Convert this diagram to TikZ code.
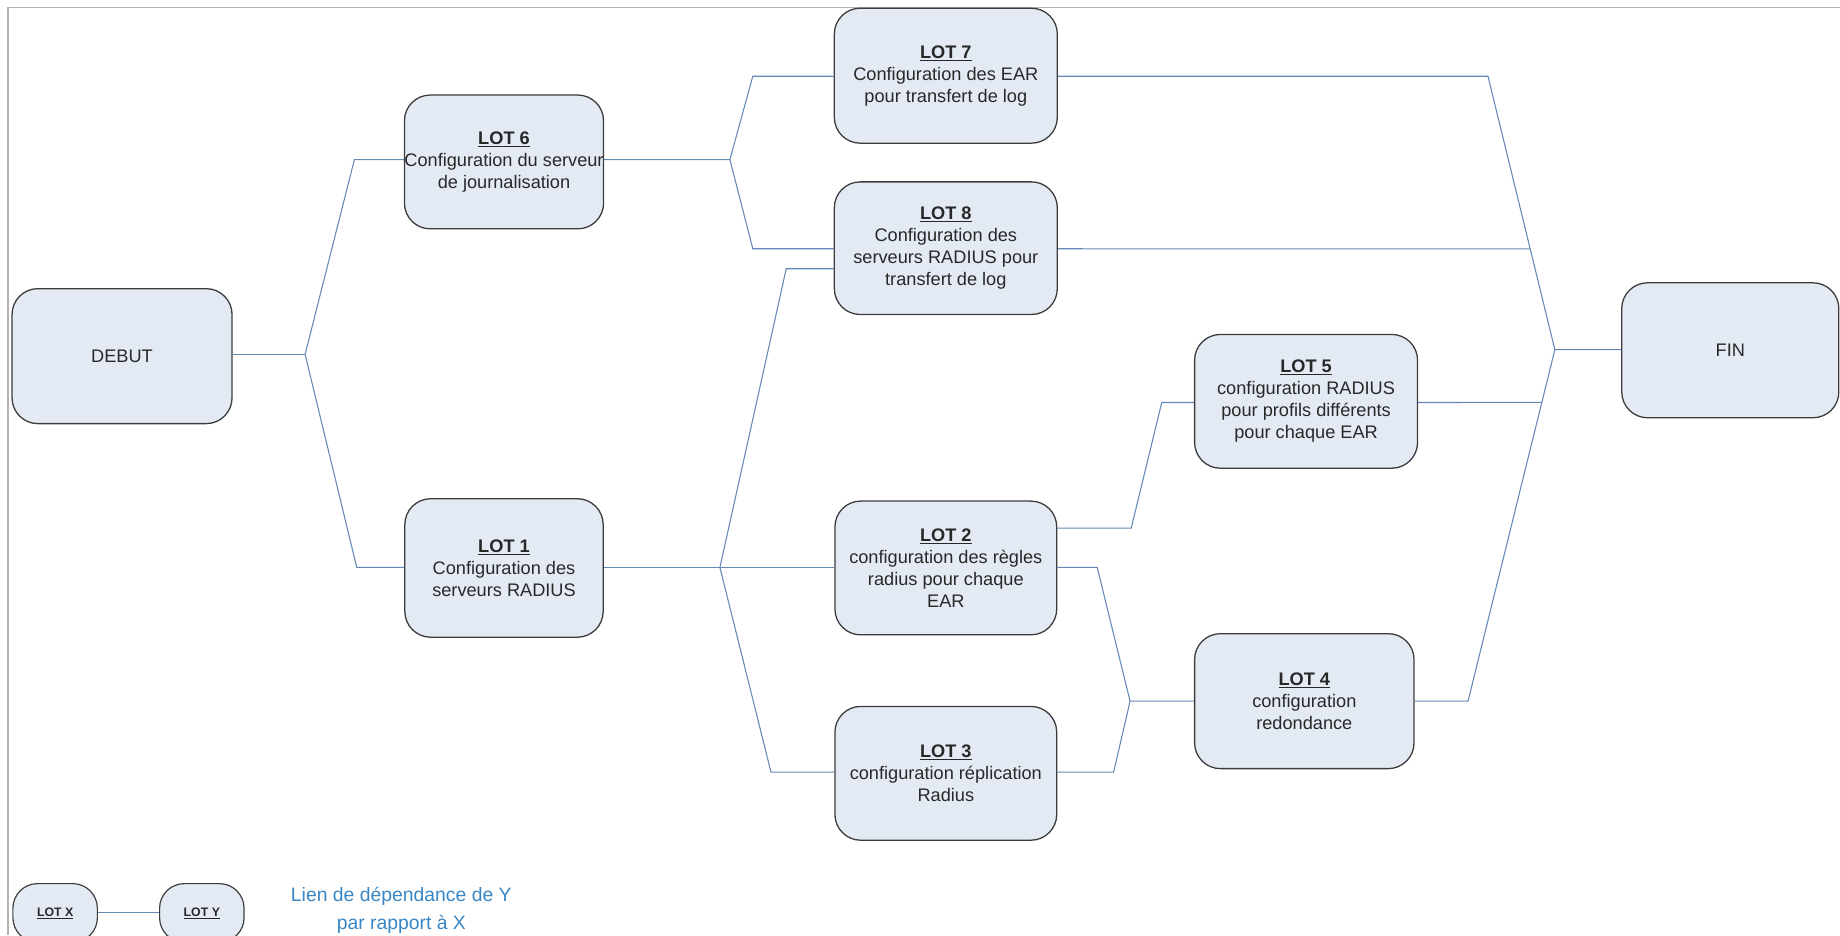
\documentclass[tikz,border=0pt]{standalone}
\usepackage{fontspec}
\setmainfont{Liberation Sans}
\usetikzlibrary{calc}

\definecolor{boxfill}{RGB}{228,234,244}
\definecolor{boxline}{RGB}{60,60,60}
\definecolor{wirecol}{RGB}{100,136,180}
\definecolor{framecol}{RGB}{180,180,180}
\definecolor{keytextcol}{RGB}{56,134,196}
\definecolor{ink}{RGB}{40,40,40}

\newcommand{\lotname}[1]{\underline{\textbf{#1}}}

\tikzset{
  lotbox/.style={draw=boxline, fill=boxfill, line width=1.1pt, rounded corners=22pt,
    align=center, inner sep=0pt, text=ink, font=\fontsize{15.5}{18.7}\selectfont},
  wire/.style={draw=wirecol, line width=0.9pt},
  framepart/.style={draw=framecol, line width=1.4pt},
  keybox/.style={draw=boxline, fill=boxfill, line width=1pt, rounded corners=21pt,
    minimum width=72pt, minimum height=50pt, inner sep=0pt, text=ink,
    font=\fontsize{10.5}{12}\selectfont},
}

\begin{document}
\begin{tikzpicture}[x=1pt, y=-1pt]
  \useasboundingbox (0,0) rectangle (1568,797);
  \clip (0,0) rectangle (1568,797);

  % page frame (top and left edges)
  \draw[framepart] (7,797) -- (7,6.3) -- (1568,6.3);

  % work packages
  \node[lotbox, minimum width=187.5pt, minimum height=115pt] (debut) at (104,303.5) {DEBUT};
  \node[lotbox, minimum width=169pt, minimum height=114pt] (lot6) at (429.5,138)
    {\lotname{LOT 6}\\Configuration du serveur\\de journalisation};
  \node[lotbox, minimum width=169pt, minimum height=118pt] (lot1) at (429.5,484)
    {\lotname{LOT 1}\\Configuration des\\serveurs RADIUS};
  \node[lotbox, minimum width=190pt, minimum height=115pt] (lot7) at (806,64.5)
    {\lotname{LOT 7}\\Configuration des EAR\\pour transfert de log};
  \node[lotbox, minimum width=190pt, minimum height=113pt] (lot8) at (806,211.5)
    {\lotname{LOT 8}\\Configuration des\\serveurs RADIUS pour\\transfert de log};
  \node[lotbox, minimum width=189pt, minimum height=114pt] (lot2) at (806,484)
    {\lotname{LOT 2}\\configuration des règles\\radius pour chaque\\EAR};
  \node[lotbox, minimum width=189pt, minimum height=114pt] (lot3) at (806,659)
    {\lotname{LOT 3}\\configuration réplication\\Radius};
  \node[lotbox, minimum width=190pt, minimum height=114pt] (lot5) at (1113,342)
    {\lotname{LOT 5}\\configuration RADIUS\\pour profils différents\\pour chaque EAR};
  \node[lotbox, minimum width=187pt, minimum height=115pt] (lot4) at (1111.5,597.5)
    {\lotname{LOT 4}\\configuration\\redondance};
  \node[lotbox, minimum width=185pt, minimum height=115pt] (fin) at (1474.5,298.5) {FIN};

  % bends and junctions of the dependency links
  \coordinate (j0) at (260,302);
  \coordinate (c06) at (302,136);
  \coordinate (c01) at (304,483.5);
  \coordinate (j6) at (622,136);
  \coordinate (c67) at (641.5,65);
  \coordinate (c68) at (641.5,212);
  \coordinate (j1) at (613.5,483.5);
  \coordinate (c18) at (670,229);
  \coordinate (c13) at (657,658);
  \coordinate (c25a) at (964,450);
  \coordinate (c25b) at (990,343);
  \coordinate (c24) at (935,483.5);
  \coordinate (j4) at (963,597.5);
  \coordinate (c34) at (949,658);
  \coordinate (c4f) at (1251,597.5);
  \coordinate (jf) at (1325,298);
  \coordinate (c7f) at (1268,65);
  \coordinate (e8) at ($(c7f)!0.631!(jf)$);
  \coordinate (e5) at ($(jf)!0.150!(c4f)$);

  % dependency links
  \draw[wire] (debut.east |- j0) -- (j0);
  \draw[wire] (j0) -- (c06) -- (lot6.west |- c06);
  \draw[wire] (j0) -- (c01) -- (lot1.west |- c01);
  \draw[wire] (lot6.east |- j6) -- (j6) -- (c67) -- (lot7.west |- c67);
  \draw[wire] (j6) -- (c68) -- (lot8.west |- c68);
  \draw[wire] (lot1.east |- j1) -- (j1) -- (lot2.west |- j1);
  \draw[wire] (j1) -- (c18) -- (lot8.west |- c18);
  \draw[wire] (j1) -- (c13) -- (lot3.west |- c13);
  \draw[wire] (lot2.east |- c25a) -- (c25a) -- (c25b) -- (lot5.west |- c25b);
  \draw[wire] (lot2.east |- c24) -- (c24) -- (j4) -- (lot4.west |- j4);
  \draw[wire] (lot3.east |- c34) -- (c34) -- (j4);
  \draw[wire] (lot4.east |- c4f) -- (c4f) -- (jf) -- (fin.west |- jf);
  \draw[wire] (lot7.east |- c7f) -- (c7f) -- (jf);
  \draw[wire] (lot8.east |- c68) -- (e8);
  \draw[wire] (lot5.east |- c25b) -- (e5);

  % legend
  \node[keybox] (keyx) at (47,778) {\lotname{LOT X}};
  \node[keybox] (keyy) at (172,778) {\lotname{LOT Y}};
  \draw[wire] (keyx) -- (keyy);
  \node[text=keytextcol, align=center, font=\fontsize{16.5}{24}\selectfont] (keytext)
    at (342,776) {Lien de dépendance de Y\\par rapport à X};
\end{tikzpicture}
\end{document}
